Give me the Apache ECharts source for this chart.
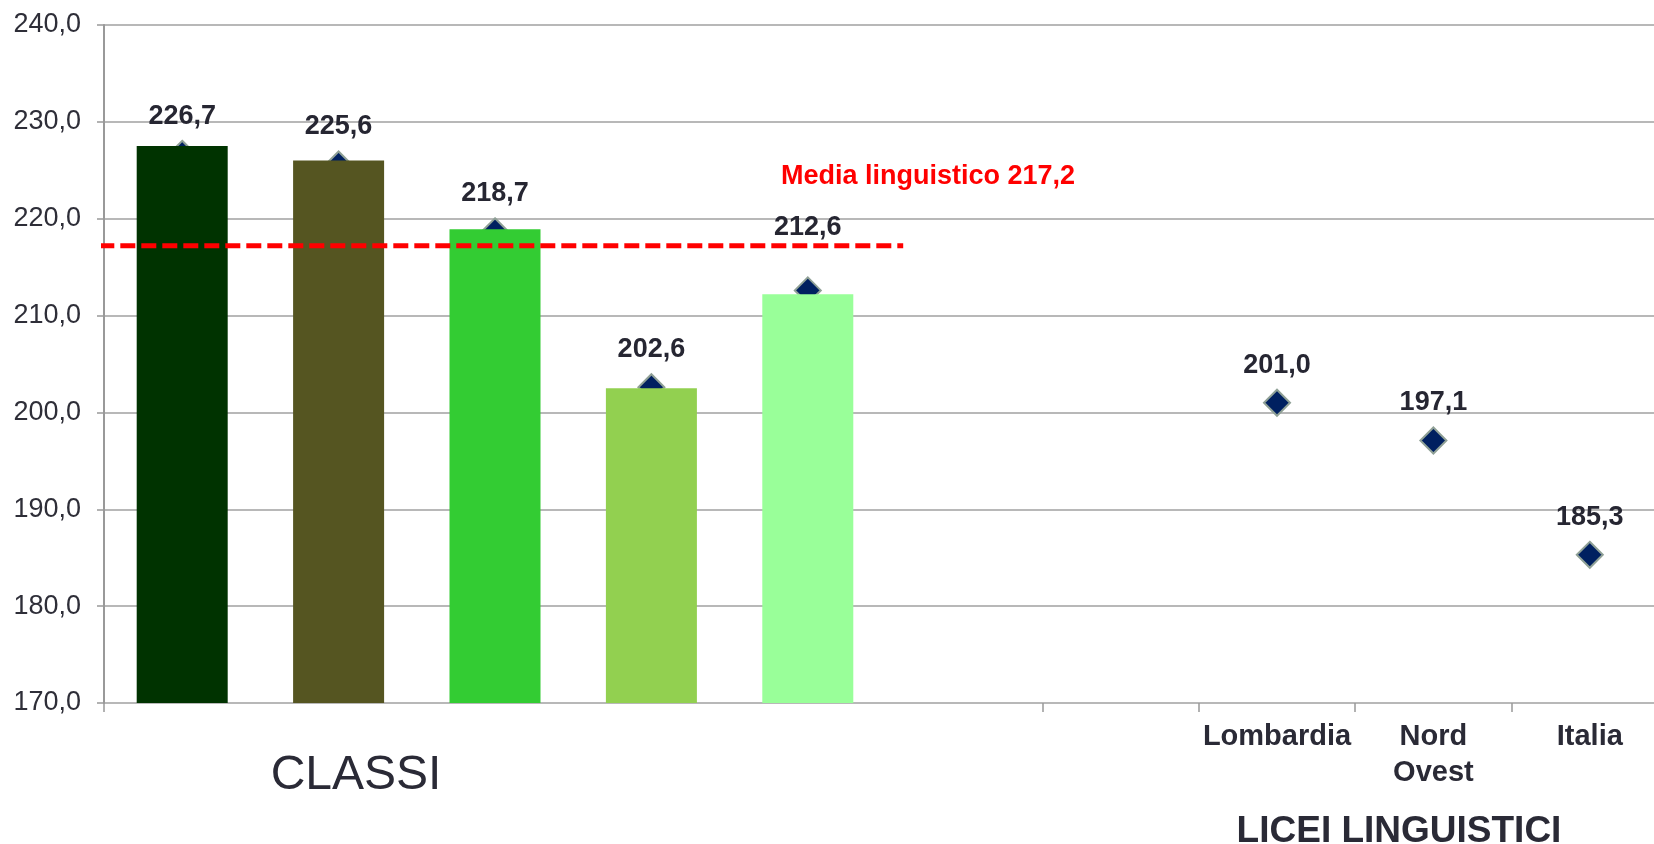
<!DOCTYPE html>
<html>
<head>
<meta charset="utf-8">
<script src="https://cdn.jsdelivr.net/npm/echarts@6/dist/echarts.min.js"></script>
<style>
  html, body { margin: 0; padding: 0; background: #fff; }
  #chart { width: 1654px; height: 844px; }
</style>
</head>
<body>
<div id="chart"></div>
<script>
// categories: 5 classes (unnamed) + 2 empty slots + reference areas
const categories = ['', '', '', '', '', '', '', 'Lombardia', 'Nord\nOvest', 'Italia']

// bar heights (classes)
const barValues = [227.5, 226.0, 218.9, 202.5, 212.2]
const barColors = ['#003300', '#555521', '#33cc33', '#92d050', '#99ff99']

// diamond points with labels
const pointValues = [226.7, 225.6, 218.7, 202.6, 212.6, null, null, 201.0, 197.1, 185.3]

// mean line for linguistic high schools
const mediaLinguistico = 217.2
const mediaLabel = 'Media linguistico 217,2'

const yTicks = { min: 170, max: 240, step: 10 }

const FONT = '"Liberation Sans", Arial, sans-serif'
const fmt = v => v.toFixed(1).replace('.', ',')

const chart = echarts.init(document.getElementById('chart'))

const barData = categories.map((c, i) => i < barValues.length
  ? { value: barValues[i], itemStyle: { color: barColors[i] } }
  : '-')

const pointData = pointValues.map((v, i) => {
  if (v == null) return '-'
  // the 212,6 label sits higher so it clears the dashed mean line
  return i === 4 ? { value: v, label: { offset: [0, -25] } } : v
})

// mean line spans the class bars, with a small overhang
const meanSpan = [-0.03, barValues.length + 0.11]

chart.setOption({
  animation: false,
  grid: { left: 104, top: 25, width: 1564, height: 678, outerBoundsMode: 'none', containLabel: false },
  xAxis: [{
    type: 'category',
    data: categories,
    boundaryGap: true,
    axisLine: { show: false },
    axisTick: {
      show: true,
      length: 9,
      interval: (i) => i === 0 || i >= 6,
      lineStyle: { color: '#999', width: 1.5 }
    },
    axisLabel: {
      interval: 0,
      margin: 16,
      fontFamily: FONT,
      fontSize: 29,
      fontWeight: 'bold',
      lineHeight: 36,
      color: '#2a2a36'
    }
  }, {
    type: 'value',
    min: 0,
    max: categories.length,
    show: false
  }],
  yAxis: {
    type: 'value',
    min: yTicks.min,
    max: yTicks.max,
    interval: yTicks.step,
    axisLine: { show: true, lineStyle: { color: '#999', width: 2 } },
    axisTick: { show: true, length: 7, lineStyle: { color: '#999', width: 1.5 } },
    splitLine: { show: true, lineStyle: { color: '#a0a0a0', width: 1.5 } },
    axisLabel: {
      margin: 23,
      fontFamily: FONT,
      fontSize: 27,
      color: '#2e2e38',
      formatter: fmt
    }
  },
  series: [
    {
      type: 'scatter',
      z: 2,
      symbol: 'diamond',
      symbolSize: 26,
      itemStyle: { color: '#002060', borderColor: '#8fa096', borderWidth: 2, opacity: 1 },
      label: {
        show: true,
        position: 'top',
        distance: 10,
        fontFamily: FONT,
        fontSize: 27,
        fontWeight: 'bold',
        color: '#262632',
        formatter: p => fmt(p.value)
      },
      data: pointData
    },
    {
      type: 'bar',
      z: 3,
      barWidth: 91,
      barGap: '-100%',
      data: barData
    },
    {
      type: 'line',
      z: 4,
      xAxisIndex: 1,
      symbol: 'none',
      lineStyle: { color: '#ff0000', width: 5, type: [15, 6] },
      data: meanSpan.map(x => [x, mediaLinguistico])
    }
  ],
  graphic: [
    {
      type: 'text', left: 781, top: 163,
      style: { text: mediaLabel, fill: '#ff0000', font: 'bold 27px ' + FONT }
    },
    {
      type: 'text', x: 356, y: 776,
      style: { text: 'CLASSI', fill: '#2a2a36', font: '48px ' + FONT, align: 'center', verticalAlign: 'middle' }
    },
    {
      type: 'text', x: 1399, y: 832,
      style: { text: 'LICEI LINGUISTICI', fill: '#2a2a36', font: 'bold 37px ' + FONT, align: 'center', verticalAlign: 'middle' }
    }
  ]
})
</script>
</body>
</html>
